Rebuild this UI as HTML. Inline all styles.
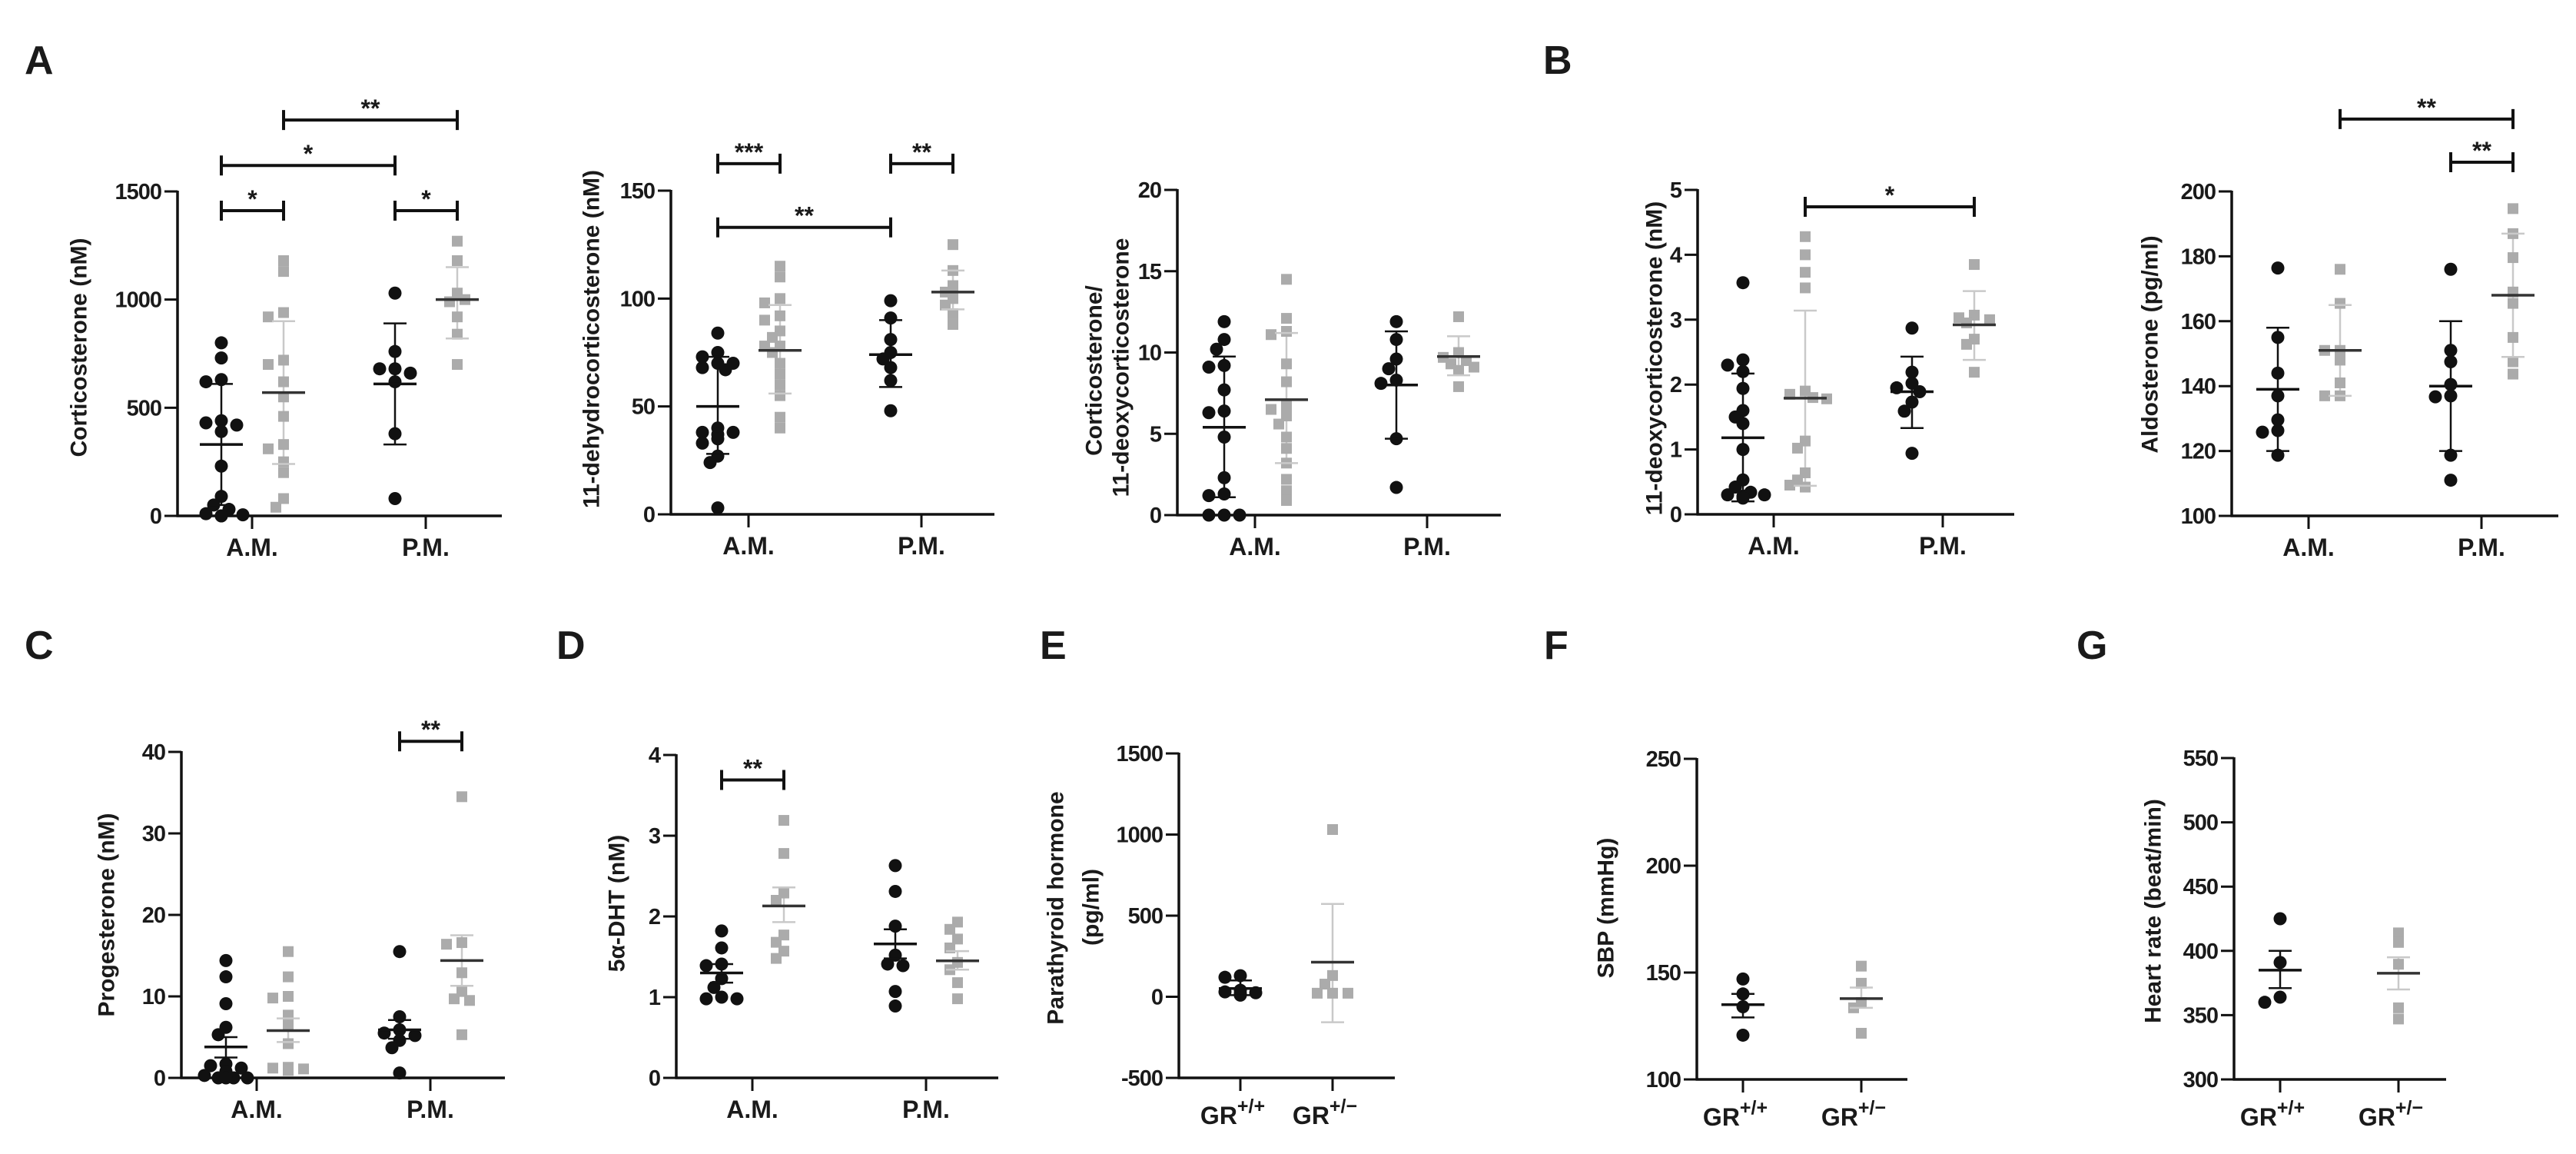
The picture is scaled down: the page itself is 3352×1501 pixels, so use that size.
<!DOCTYPE html>
<html><head><meta charset="utf-8">
<style>
html,body{margin:0;padding:0;background:#fff;}
svg{display:block;font-family:"Liberation Sans",Arial,sans-serif;font-weight:bold;}
</style></head>
<body>
<svg id="fig" width="3352" height="1501" viewBox="0 0 3352 1501" xmlns="http://www.w3.org/2000/svg"></svg>
<script>
// ---------- data ----------
const cortAmB=[800,730,630,620,440,430,420,390,230,90,50,30,10,5,0,0];
const cortAmG=[1180,1130,940,920,720,700,620,550,460,330,310,250,200,80,40];
const cortPmB=[1030,760,680,680,660,620,380,80];
const cortPmG=[1270,1180,1030,990,1000,920,840,700];
const cortMean=[330,570,610,1000], cortHi=[610,900,890,1150], cortLo=[50,240,330,820];

const dhcAmB=[84,75,73,70,70,68,67,40,38,38,37,35,33,27,24,3];
const dhcAmG=[115,110,100,98,92,90,85,82,78,78,75,70,65,60,55,45,40];
const dhcPmB=[99,91,81,75,72,68,62,48];
const dhcPmG=[125,113,106,103,100,97,93,88];
const dhcMean=[50,76,74,103], dhcHi=[73,97,90,113], dhcLo=[28,56,59,95];

const ratAmB=[11.9,10.8,10.2,9.2,9.1,7.7,6.4,6.3,4.8,2.3,1.3,1.2,0,0,0];
const ratAmG=[14.5,12.1,11.3,11.1,9.3,8.2,6.7,6.5,6.1,5.6,4.8,4.1,3.2,2.2,1.5,0.9];
const ratPmB=[11.9,10.8,9.6,9.0,8.3,8.1,4.7,1.7];
const ratPmG=[12.2,10,9.7,9.5,9.3,9.1,8.9,7.9];
const ratMean=[5.4,7.1,8.0,9.75], ratHi=[9.75,11.2,11.3,11], ratLo=[1.1,3.2,4.7,8.6];

const docAmB=[3.57,2.38,2.3,2.2,1.94,1.6,1.5,1.4,1.0,0.53,0.42,0.34,0.3,0.3,0.28,0.25];
const docAmG=[4.28,4.0,3.73,3.49,1.9,1.85,1.8,1.78,1.13,1.02,0.64,0.53,0.42,0.45];
const docPmB=[2.87,2.19,2.02,1.95,1.89,1.73,1.59,0.94];
const docPmG=[3.85,3.07,3.03,3.0,2.95,2.7,2.62,2.19];
const docMean=[1.18,1.79,1.89,2.92], docHi=[2.17,3.14,2.43,3.44], docLo=[0.2,0.44,1.33,2.38];

const aldAmB=[176.4,155,144,137,129.6,126.3,125.8,118.7];
const aldAmG=[176,165.5,151,151,148,141,137,137];
const aldPmB=[176,151,147.5,140.5,137,136.7,118.7,111];
const aldPmG=[194.7,187,179.6,169,165.5,155,147.5,143.7];
const aldMean=[139,151,140,168], aldHi=[158,165,160,187], aldLo=[120,137,120,149];

const proAmB=[14.4,12.4,9.1,6.2,5.3,1.7,1.5,1.2,0.8,0.3,0,0,0,0];
const proAmG=[15.5,12.4,10,9.8,7.7,6.4,4.2,1.3,1.2,1.1,1.0,1.0,0.9];
const proPmB=[15.5,7.5,5.9,5.5,5.2,4.6,3.7,0.6];
const proPmG=[34.5,16.6,16.4,12.9,10.6,9.7,9.5,5.3];
const proMean=[3.8,5.8,5.9,14.4], proHi=[5.0,7.3,7.1,17.5], proLo=[2.5,4.4,4.8,11.3];

const dhtAmB=[1.82,1.61,1.41,1.39,1.23,1.12,1.0,0.98,0.98];
const dhtAmG=[3.19,2.78,2.29,2.2,1.77,1.68,1.57,1.48];
const dhtPmB=[2.63,2.31,1.88,1.52,1.41,1.39,1.07,0.89];
const dhtPmG=[1.93,1.84,1.72,1.61,1.43,1.34,1.18,0.98];
const dhtMean=[1.30,2.13,1.66,1.45], dhtHi=[1.41,2.36,1.84,1.57], dhtLo=[1.18,1.93,1.48,1.34];

const pthWt=[130,120,40,30,25,20,15,10];
const pthHet=[1031,131,78,22,22,22];
const pthMean=[51,213], pthHi=[101,572], pthLo=[10,-157];

const sbpWt=[147,140,134,120.7];
const sbpHet=[153,145,136,133.5,121.6];
const sbpMean=[135,137.8], sbpHi=[140,143], sbpLo=[129,133.5];

const hrWt=[425,391,364,360];
const hrHet=[414,406.6,389.6,355.7,347];
const hrMean=[385,382.6], hrHi=[400,395], hrLo=[371,370];

const ampmLabels=["A.M.","P.M."];
const grLabels=["+/+","+/\u2212"];

// ---------- drawing ----------
const NS='http://www.w3.org/2000/svg';
const svg=document.getElementById('fig');
function mk(tag,attrs,parent){const e=document.createElementNS(NS,tag);for(const k in attrs)e.setAttribute(k,attrs[k]);(parent||svg).appendChild(e);return e;}

const BLACK='#111', GRAY='#ababab', LGRAY='#c9c9c9';

function swarm(vals,cx,yf,minD){
  const placed=[];
  vals.forEach(v=>{
    const py=yf(v);
    const offs=[0,-10,10,-20,20,-28,28];
    let px=cx;
    for(const o of offs){
      const x=cx+o;
      if(placed.every(p=>Math.hypot(p.x-x,p.y-py)>=minD)){px=x;break;}
    }
    placed.push({x:px,y:py});
  });
  return placed;
}

function drawPanel(p){
  const g=mk('g',{});
  
  
  const y=v=>p.yBot-(v-p.min)/(p.max-p.min)*(p.yBot-p.yTop);
  const ya=mk('line',{x1:p.ax,y1:p.yTop-1,x2:p.ax,y2:p.yBot+1.5,stroke:BLACK,'stroke-width':3.5},g);
  
  
  const xa=mk('line',{x1:p.ax-1.5,y1:p.yBot,x2:p.xEnd,y2:p.yBot,stroke:BLACK,'stroke-width':3.5},g);
  
  
  p.ticks.forEach(t=>{
    const tl=mk('line',{x1:p.ax-17,y1:y(t),x2:p.ax,y2:y(t),stroke:BLACK,'stroke-width':3},g);
    
    
    const tt=mk('text',{x:p.ax-21,y:y(t)+10,'text-anchor':'end','font-size':29,fill:'#1a1a1a','letter-spacing':-1},g);
    tt.textContent=String(t);
    
    
  });
  p.cats.forEach((c,i)=>{
    const tk=mk('line',{x1:c,y1:p.yBot,x2:c,y2:p.yBot+17,stroke:BLACK,'stroke-width':3},g);
    
    
    const lab=mk('text',{x:c,y:p.yBot+(p.gr?60:52),'text-anchor':'middle','font-size':32,fill:'#1a1a1a'},g);
    if(p.gr){
      lab.textContent='GR';
      const sp=mk('tspan',{dy:-15,'font-size':25},lab);
      sp.textContent=grLabels[i];
      lab.setAttribute('x',c-10);
    } else lab.textContent=p.catLabels[i];
    
    
  });
  const centers=[];
  p.groups.forEach((gr,gi)=>{
    const cx=p.cats[gr.cat]+gr.off;
    centers.push(cx);
    const dark=gr.dark;
    const ebCol=dark?BLACK:LGRAY;
    const wh=mk('line',{x1:cx,y1:y(p.hi[gi]),x2:cx,y2:y(p.lo[gi]),stroke:ebCol,'stroke-width':2.5},g);
    
    
    const pts=swarm(gr.vals,cx,y,dark?13:12);
    pts.forEach(pt=>{
      let m;
      if(dark){ m=mk('circle',{cx:pt.x,cy:pt.y,r:8.5,fill:BLACK},g); }
      else { m=mk('rect',{x:pt.x-7,y:pt.y-7,width:14,height:14,fill:GRAY},g); }
      
      
    });
    [p.hi[gi],p.lo[gi]].forEach(v=>{
      const cp=mk('line',{x1:cx-15,y1:y(v),x2:cx+15,y2:y(v),stroke:ebCol,'stroke-width':2.5},g);
      
      
    });
    const ml=mk('line',{x1:cx-28,y1:y(p.mean[gi]),x2:cx+28,y2:y(p.mean[gi]),stroke:dark?BLACK:'#333','stroke-width':3.5},g);
    
    
  });
  (p.brackets||[]).forEach(b=>{
    const x1=centers[b[0]], x2=centers[b[1]], by=y(b[2]);
    const bl=mk('path',{d:`M${x1},${by-13}V${by+13}M${x1},${by}H${x2}M${x2},${by-13}V${by+13}`,stroke:BLACK,'stroke-width':4,fill:'none'},g);
    
    
    const st=mk('text',{x:(x1+x2)/2,y:by-4,'text-anchor':'middle','font-size':32,fill:'#1a1a1a'},g);
    st.textContent=b[3];
    
    
  });
  p.title.forEach(t=>{
    const tt=mk('text',{x:t[0],y:t[1],'text-anchor':'middle','font-size':30,fill:'#1a1a1a',transform:`rotate(-90 ${t[0]} ${t[1]})`,'dominant-baseline':'central'},g);
    tt.textContent=t[2];
    
    
  });
}

function four(a,b,c,d){return [
  {cat:0,off:-40,dark:true,vals:a},{cat:0,off:41,dark:false,vals:b},
  {cat:1,off:-40,dark:true,vals:c},{cat:1,off:41,dark:false,vals:d}];}
function two(a,b){return [{cat:0,off:0,dark:true,vals:a},{cat:1,off:0,dark:false,vals:b}];}

const panels=[
 {name:'panel-corticosterone',ax:231,yTop:249,yBot:671,xEnd:653,min:0,max:1500,ticks:[0,500,1000,1500],cats:[328,554],catLabels:ampmLabels,
  groups:four(cortAmB,cortAmG,cortPmB,cortPmG),mean:cortMean,hi:cortHi,lo:cortLo,
  brackets:[[0,1,1411,'*'],[2,3,1411,'*'],[0,2,1620,'*'],[1,3,1830,'**']],title:[[103,452,'Corticosterone (nM)']]},
 {name:'panel-11-dehydrocorticosterone',ax:873,yTop:248,yBot:669,xEnd:1294,min:0,max:150,ticks:[0,50,100,150],cats:[974,1199],catLabels:ampmLabels,
  groups:four(dhcAmB,dhcAmG,dhcPmB,dhcPmG),mean:dhcMean,hi:dhcHi,lo:dhcLo,
  brackets:[[0,1,162.5,'***'],[2,3,162.5,'**'],[0,2,133,'**']],title:[[770,441,'11-dehydrocorticosterone (nM)']]},
 {name:'panel-ratio',ax:1532,yTop:247,yBot:670,xEnd:1953,min:0,max:20,ticks:[0,5,10,15,20],cats:[1633,1857],catLabels:ampmLabels,
  groups:four(ratAmB,ratAmG,ratPmB,ratPmG),mean:ratMean,hi:ratHi,lo:ratLo,
  title:[[1424,482,'Corticosterone/'],[1459,478,'11-deoxycorticosterone']]},
 {name:'panel-11-deoxycorticosterone',ax:2209,yTop:247,yBot:669,xEnd:2621,min:0,max:5,ticks:[0,1,2,3,4,5],cats:[2308,2528],catLabels:ampmLabels,
  groups:four(docAmB,docAmG,docPmB,docPmG),mean:docMean,hi:docHi,lo:docLo,
  brackets:[[1,3,4.74,'*']],title:[[2153,466,'11-deoxycorticosterone (nM)']]},
 {name:'panel-aldosterone',ax:2904,yTop:249,yBot:671,xEnd:3329,min:100,max:200,ticks:[100,120,140,160,180,200],cats:[3004,3229],catLabels:ampmLabels,
  groups:four(aldAmB,aldAmG,aldPmB,aldPmG),mean:aldMean,hi:aldHi,lo:aldLo,
  brackets:[[2,3,209,'**'],[1,3,222.3,'**']],title:[[2798,448,'Aldosterone (pg/ml)']]},
 {name:'panel-progesterone',ax:236,yTop:978,yBot:1402,xEnd:657,min:0,max:40,ticks:[0,10,20,30,40],cats:[334,560],catLabels:ampmLabels,
  groups:four(proAmB,proAmG,proPmB,proPmG),mean:proMean,hi:proHi,lo:proLo,
  brackets:[[2,3,41.3,'**']],title:[[139,1190,'Progesterone (nM)']]},
 {name:'panel-5a-dht',ax:880,yTop:982,yBot:1402,xEnd:1299,min:0,max:4,ticks:[0,1,2,3,4],cats:[979,1205],catLabels:ampmLabels,
  groups:four(dhtAmB,dhtAmG,dhtPmB,dhtPmG),mean:dhtMean,hi:dhtHi,lo:dhtLo,
  brackets:[[0,1,3.69,'**']],title:[[803,1175,'5\u03b1-DHT (nM)']]},
 {name:'panel-parathyroid-hormone',ax:1534,yTop:980,yBot:1402,xEnd:1815,min:-500,max:1500,ticks:[-500,0,500,1000,1500],cats:[1614,1734],gr:true,
  groups:two(pthWt,pthHet),mean:pthMean,hi:pthHi,lo:pthLo,
  title:[[1374,1181,'Parathyroid hormone'],[1420,1180,'(pg/ml)']]},
 {name:'panel-sbp',ax:2208,yTop:987,yBot:1404,xEnd:2482,min:100,max:250,ticks:[100,150,200,250],cats:[2268,2422],gr:true,
  groups:two(sbpWt,sbpHet),mean:sbpMean,hi:sbpHi,lo:sbpLo,
  title:[[2090,1181,'SBP (mmHg)']]},
 {name:'panel-heart-rate',ax:2907,yTop:986,yBot:1404,xEnd:3183,min:300,max:550,ticks:[300,350,400,450,500,550],cats:[2967,3121],gr:true,
  groups:two(hrWt,hrHet),mean:hrMean,hi:hrHi,lo:hrLo,
  title:[[2802,1185,'Heart rate (beat/min)']]}
];
panels.forEach(drawPanel);

const letters=[['A',32,96],['B',2008,96],['C',32,857],['D',724,857],['E',1353,857],['F',2009,857],['G',2702,857]];
letters.forEach(l=>{
  const t=mk('text',{x:l[1],y:l[2],'font-size':52,fill:'#1a1a1a'});
  t.textContent=l[0];
  
  
});
</script>
</body></html>
